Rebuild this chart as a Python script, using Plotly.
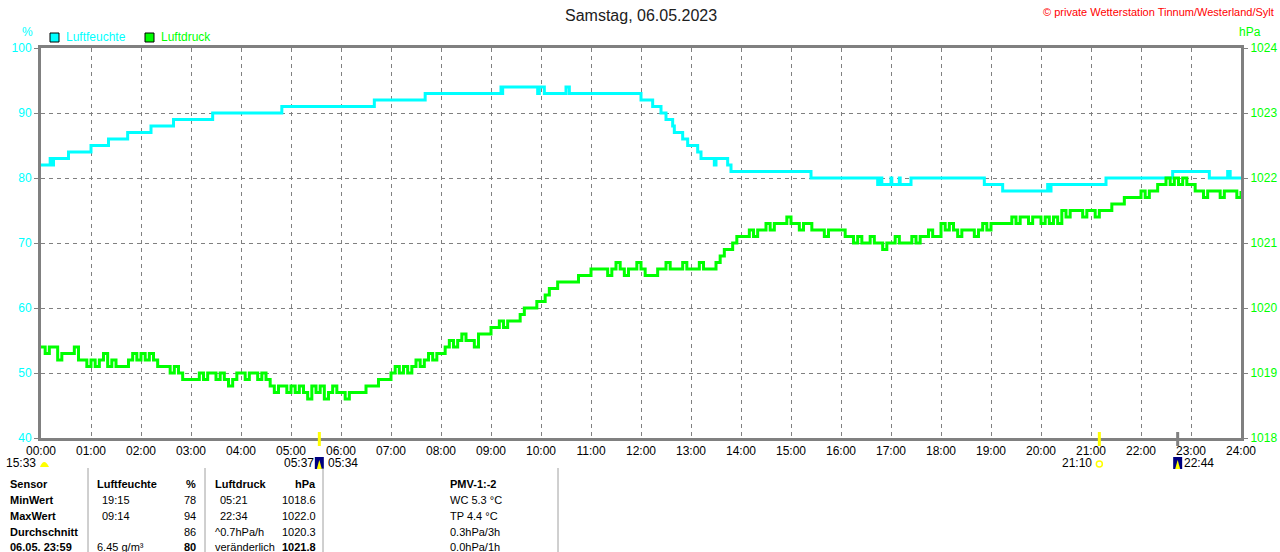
import plotly.graph_objects as go

# --- data ---------------------------------------------------------------
hour_labels = ["%02d:00" % h for h in range(25)]

# relative humidity (%), stepped series: change time -> value
hum_times = ["00:00", "00:11", "00:13", "00:15", "00:33", "01:00", "01:21", "01:44",
             "02:12", "02:39", "03:26", "04:49", "06:40", "07:41", "09:12", "09:13",
             "09:14", "09:56", "09:58", "10:04", "10:30", "10:34", "12:00", "12:14",
             "12:24", "12:30", "12:38", "12:40", "12:50", "12:56", "13:08", "13:12",
             "13:28", "13:30", "13:44", "13:48", "15:24", "16:44", "16:47", "16:49",
             "17:00", "17:01", "17:10", "17:11", "17:24", "18:52", "19:14", "20:08",
             "20:10", "20:12", "21:18", "22:38", "23:22", "23:44", "23:47", "24:00"]
hum_values = [82, 83, 82, 83, 84, 85, 86, 87,
              88, 89, 90, 91, 92, 93, 94, 93,
              94, 93, 94, 93, 94, 93, 92, 91,
              90, 89, 88, 87, 86, 85, 84, 83,
              82, 83, 82, 81, 80, 79, 80, 79,
              80, 79, 80, 79, 80, 79, 78, 79,
              78, 79, 80, 81, 80, 81, 80, 80]

# air pressure (hPa), one value every 5 minutes from 00:00 to 24:00
pres_values = [
    1019.4, 1019.3, 1019.4, 1019.4, 1019.2, 1019.3, 1019.3, 1019.3, 1019.4, 1019.2, 1019.2, 1019.1,
    1019.2, 1019.1, 1019.2, 1019.3, 1019.1, 1019.2, 1019.1, 1019.1, 1019.1, 1019.2, 1019.3, 1019.2,
    1019.3, 1019.2, 1019.3, 1019.2, 1019.1, 1019.1, 1019.1, 1019.0, 1019.1, 1019.0, 1018.9, 1018.9,
    1018.9, 1018.9, 1019.0, 1018.9, 1019.0, 1019.0, 1018.9, 1019.0, 1018.9, 1018.8, 1018.9, 1019.0,
    1019.0, 1018.9, 1019.0, 1019.0, 1018.9, 1019.0, 1018.9, 1018.8, 1018.7, 1018.8, 1018.8, 1018.7,
    1018.8, 1018.7, 1018.8, 1018.7, 1018.6, 1018.8, 1018.7, 1018.8, 1018.6, 1018.7, 1018.8, 1018.7,
    1018.7, 1018.6, 1018.7, 1018.7, 1018.7, 1018.7, 1018.8, 1018.8, 1018.8, 1018.9, 1018.9, 1018.9,
    1019.0, 1019.1, 1019.0, 1019.1, 1019.0, 1019.1, 1019.2, 1019.1, 1019.2, 1019.3, 1019.2, 1019.3,
    1019.3, 1019.4, 1019.5, 1019.4, 1019.5, 1019.6, 1019.5, 1019.5, 1019.4, 1019.6, 1019.6, 1019.6,
    1019.7, 1019.7, 1019.8, 1019.7, 1019.8, 1019.8, 1019.8, 1019.9, 1020.0, 1020.0, 1020.0, 1020.1,
    1020.1, 1020.2, 1020.3, 1020.3, 1020.4, 1020.4, 1020.4, 1020.4, 1020.4, 1020.5, 1020.5, 1020.5,
    1020.6, 1020.6, 1020.6, 1020.6, 1020.5, 1020.6, 1020.7, 1020.6, 1020.5, 1020.6, 1020.6, 1020.7,
    1020.6, 1020.5, 1020.5, 1020.5, 1020.6, 1020.6, 1020.7, 1020.6, 1020.6, 1020.6, 1020.7, 1020.6,
    1020.6, 1020.6, 1020.7, 1020.6, 1020.6, 1020.6, 1020.7, 1020.8, 1020.9, 1020.9, 1021.0, 1021.1,
    1021.1, 1021.1, 1021.2, 1021.1, 1021.2, 1021.2, 1021.3, 1021.2, 1021.3, 1021.3, 1021.3, 1021.4,
    1021.3, 1021.3, 1021.2, 1021.3, 1021.3, 1021.2, 1021.2, 1021.2, 1021.1, 1021.2, 1021.2, 1021.2,
    1021.2, 1021.1, 1021.1, 1021.0, 1021.1, 1021.0, 1021.0, 1021.1, 1021.0, 1021.0, 1020.9, 1021.0,
    1021.0, 1021.1, 1021.0, 1021.0, 1021.0, 1021.1, 1021.0, 1021.1, 1021.1, 1021.2, 1021.1, 1021.1,
    1021.3, 1021.2, 1021.3, 1021.2, 1021.1, 1021.2, 1021.2, 1021.2, 1021.1, 1021.2, 1021.3, 1021.2,
    1021.3, 1021.3, 1021.3, 1021.3, 1021.3, 1021.4, 1021.3, 1021.4, 1021.4, 1021.3, 1021.4, 1021.4,
    1021.3, 1021.4, 1021.3, 1021.4, 1021.3, 1021.5, 1021.4, 1021.5, 1021.5, 1021.5, 1021.4, 1021.5,
    1021.5, 1021.4, 1021.5, 1021.5, 1021.5, 1021.6, 1021.6, 1021.6, 1021.7, 1021.7, 1021.7, 1021.7,
    1021.8, 1021.7, 1021.8, 1021.8, 1021.9, 1021.9, 1022.0, 1021.9, 1022.0, 1021.9, 1022.0, 1021.9,
    1021.9, 1021.8, 1021.8, 1021.7, 1021.8, 1021.8, 1021.8, 1021.7, 1021.8, 1021.8, 1021.8, 1021.7,
    1021.8,
]

# sun / moon events under the time axis
sun_events = ["05:34", "21:10"]
moon_event = "22:44"

# statistics table
table_rows = ["Sensor", "MinWert", "MaxWert", "Durchschnitt", "06.05. 23:59"]
hum_col_a = ["Luftfeuchte", "19:15", "09:14", "", "6.45 g/m³"]
hum_col_b = ["%", "78", "94", "86", "80"]
pres_col_a = ["Luftdruck", "05:21", "22:34", "^0.7hPa/h", "veränderlich"]
pres_col_b = ["hPa", "1018.6", "1022.0", "1020.3", "1021.8"]
pmv_col = ["PMV-1:-2", "WC 5.3 °C", "TP 4.4 °C", "0.3hPa/3h", "0.0hPa/1h"]


def hrs(t):
    h, m = t.split(":")
    return int(h) + int(m) / 60


# page pixel -> paper helpers (plot area: 41..1241 x 48..438)
def px(x):
    return (x - 41) / 1200


def py(y):
    return (438 - y) / 390


CYAN = "#00FFFF"
GREEN = "#00FF00"
GRAY = "#808080"
FONT = "Liberation Sans"

hum_x = [hrs(t) for t in hum_times]
pres_x = [i * 5 / 60 for i in range(len(pres_values))]

fig = go.Figure()
fig.add_trace(go.Scatter(x=hum_x, y=hum_values, mode="lines", line_shape="hv",
                         line=dict(color=CYAN, width=3), name="Luftfeuchte"))
fig.add_trace(go.Scatter(x=pres_x, y=pres_values, mode="lines", line_shape="hv",
                         line=dict(color=GREEN, width=3), name="Luftdruck", yaxis="y2"))

shapes = []
ann = []

# event ticks + icons on the time axis
for t in sun_events:
    shapes.append(dict(type="line", xref="x", yref="paper", x0=hrs(t), x1=hrs(t),
                       y0=py(432), y1=py(446), line=dict(color="#FFFF00", width=3)))
shapes.append(dict(type="line", xref="x", yref="paper", x0=hrs(moon_event), x1=hrs(moon_event),
                   y0=py(432), y1=py(446), line=dict(color=GRAY, width=3)))

# sunrise icon (05:34) and moonrise icon (22:44)
for t in [sun_events[0], moon_event]:
    x = hrs(t)
    shapes.append(dict(type="rect", xref="x", yref="paper", x0=x - 0.09, x1=x + 0.09,
                       y0=py(469), y1=py(457), fillcolor="#000080", line=dict(width=0)))
    shapes.append(dict(type="path", xref="x", yref="paper",
                       path="M %f %f L %f %f L %f %f Z" % (x - 0.05, py(469), x + 0.05, py(469), x, py(460)),
                       fillcolor="#FFFF00", line=dict(width=0)))
# sunset circle (21:10)
shapes.append(dict(type="circle", xref="x", yref="paper", x0=hrs(sun_events[1]) - 0.06,
                   x1=hrs(sun_events[1]) + 0.06, y0=py(467), y1=py(461),
                   line=dict(color="#FFFF00", width=1.5)))
# moonset half disc at the left edge
shapes.append(dict(type="path", xref="paper", yref="paper",
                   path="M %f %f Q %f %f %f %f Z" % (px(40), py(467), px(44), py(457), px(49), py(467)),
                   fillcolor="#FFFF00", line=dict(width=0)))

small = dict(family=FONT, size=12, color="black")
ann += [
    dict(x=px(38), y=py(463), text="15:33", xanchor="right"),
    dict(x=px(316), y=py(463), text="05:37", xanchor="right"),
    dict(x=px(326), y=py(463), text="05:34", xanchor="left"),
    dict(x=px(1094), y=py(463), text="21:10", xanchor="right"),
    dict(x=px(1182), y=py(463), text="22:44", xanchor="left"),
]

# title, copyright, axis units, legend
ann += [
    dict(x=0.5, y=py(15), text="Samstag, 06.05.2023", xanchor="center",
         font=dict(family=FONT, size=16, color="#202020")),
    dict(x=px(1276), y=py(12), text="© private Wetterstation Tinnum/Westerland/Sylt",
         xanchor="right", font=dict(family=FONT, size=11, color="#FF0000")),
    dict(x=px(27), y=py(32), text="%", xanchor="center", font=dict(family=FONT, size=12, color=CYAN)),
    dict(x=px(1250), y=py(32), text="hPa", xanchor="center", font=dict(family=FONT, size=12, color=GREEN)),
    dict(x=px(64), y=py(37), text="Luftfeuchte", xanchor="left", font=dict(family=FONT, size=12, color=CYAN)),
    dict(x=px(159), y=py(37), text="Luftdruck", xanchor="left", font=dict(family=FONT, size=12, color=GREEN)),
]
for x0, col in [(50, CYAN), (145, GREEN)]:
    shapes.append(dict(type="rect", xref="paper", yref="paper", x0=px(x0), x1=px(x0 + 9),
                       y0=py(42), y1=py(33), fillcolor=col, line=dict(color="black", width=1)))

# statistics table
tab = dict(family=FONT, size=11, color="black")
row_y = [484, 500, 516, 532, 547]
for i, yy in enumerate(row_y):
    bold = i == 0
    def t(s, b=bold):
        return "<b>%s</b>" % s if b and s else s
    cells = [
        (8, "<b>%s</b>" % table_rows[i], "left"),
        (95 if i in (0, 4) else 100, t(hum_col_a[i]), "left"),
        (198, t(hum_col_b[i], bold or i == 4), "right"),
        (213 if i in (0, 3, 4) else 218, t(pres_col_a[i]), "left"),
        (318, t(pres_col_b[i], bold or i == 4), "right"),
        (448, t(pmv_col[i]), "left"),
    ]
    for cx, txt, anc in cells:
        ann.append(dict(x=px(cx), y=py(yy), text=txt, xanchor=anc, font=tab))
for sx in [88, 205, 323, 558]:
    shapes.append(dict(type="line", xref="paper", yref="paper", x0=px(sx), x1=px(sx),
                       y0=py(468), y1=py(556), line=dict(color="#A0A0A0", width=1)))

for a in ann:
    a.setdefault("xref", "paper")
    a.setdefault("yref", "paper")
    a.setdefault("yanchor", "middle")
    a.setdefault("showarrow", False)
    a.setdefault("font", small)

fig.update_layout(
    width=1280, height=552, autosize=False,
    margin=dict(l=41, r=39, t=48, b=114),
    paper_bgcolor="white", plot_bgcolor="white",
    showlegend=False,
    font=dict(family=FONT, size=12, color="black"),
    xaxis=dict(range=[0, 24], tickvals=list(range(25)), ticktext=hour_labels,
               showgrid=True, gridcolor=GRAY, griddash="4px,4px", gridwidth=1,
               showline=True, linecolor=GRAY, linewidth=3, mirror=True,
               ticks="", zeroline=False, tickfont=dict(size=12, color="black"),
               automargin=False),
    yaxis=dict(range=[40, 100], dtick=10, showgrid=True, gridcolor=GRAY,
               griddash="4px,4px", gridwidth=1, showline=True, linecolor=GRAY,
               linewidth=3, ticks="outside", ticklen=4, tickcolor=GRAY,
               tickfont=dict(size=12, color=CYAN), zeroline=False, automargin=False),
    yaxis2=dict(range=[1018, 1024], dtick=1, overlaying="y", side="right",
                showgrid=False, showline=True, linecolor=GRAY, linewidth=3,
                ticks="outside", ticklen=4, tickcolor=GRAY,
                tickfont=dict(size=12, color=GREEN), zeroline=False, automargin=False),
    shapes=shapes,
    annotations=ann,
)

# drop the default 8px page margin so the figure sits at the window's corner
fig.write_html("out.html", config={"displayModeBar": False},
               post_script="document.body.style.margin='0';document.body.style.overflow='hidden';")
